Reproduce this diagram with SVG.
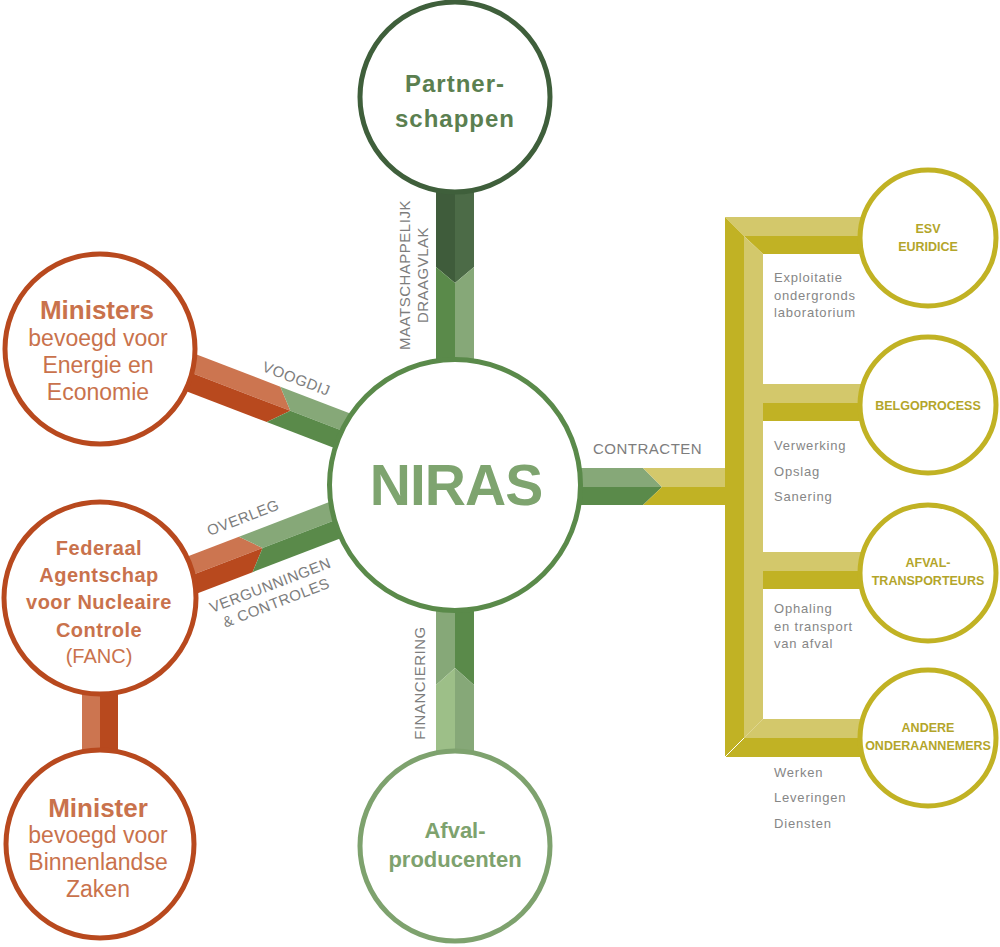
<svg xmlns="http://www.w3.org/2000/svg" width="1000" height="947" viewBox="0 0 1000 947">
<style>
text{font-family:"Liberation Sans",Arial,sans-serif}
.lbl{font-size:15px;fill:#7d7d7d;letter-spacing:0.5px}
.desc{font-size:13px;fill:#868686;letter-spacing:0.8px}
.ring{fill:#fff;stroke-width:5}
.ysm{font-size:12.5px;font-weight:bold;fill:#b3a52a;text-anchor:middle}
.or{fill:#c9724c;text-anchor:middle}
.lo{fill:#cc7550}.do{fill:#b8491e}
.lg{fill:#86a878}.mg{fill:#5a8a4a}.vg{fill:#9dbf88}
.ly{fill:#d3c86b}.dy{fill:#c1b224}
</style>
<rect width="1000" height="947" fill="#fff"/>
<g id="connectors">
  <!-- Partnerschappen to NIRAS -->
  <polygon points="436,150 455,150 455,283 436,267" fill="#3f5c3b"/>
  <polygon points="455,150 474,150 474,267 455,283" fill="#4c6b47"/>
  <polygon class="mg" points="436,267 455,283 455,420 436,420"/>
  <polygon class="lg" points="455,283 474,267 474,420 455,420"/>
  <!-- Afvalproducenten to NIRAS -->
  <polygon class="lg" points="436,550 455,550 455,668 436,685"/>
  <polygon class="mg" points="455,550 474,550 474,685 455,668"/>
  <polygon class="vg" points="436,685 455,668 455,800 436,800"/>
  <polygon class="lg" points="455,668 474,685 474,800 455,800"/>
  <!-- Ministers to NIRAS -->
  <g transform="translate(197,375) rotate(21)">
    <polygon class="lo" points="-30,-19 82,-19 100,0 -30,0"/>
    <polygon class="do" points="-30,0 100,0 82,19 -30,19"/>
    <polygon class="lg" points="82,-19 210,-19 210,0 100,0"/>
    <polygon class="mg" points="100,0 210,0 210,19 82,19"/>
  </g>
  <!-- FANC to NIRAS -->
  <g transform="translate(200,572) rotate(-21)">
    <polygon class="lo" points="-30,-19 49,-19 67,0 -30,0"/>
    <polygon class="do" points="-30,0 67,0 49,19 -30,19"/>
    <polygon class="lg" points="49,-19 230,-19 230,0 67,0"/>
    <polygon class="mg" points="67,0 230,0 230,19 49,19"/>
  </g>
  <!-- FANC to Minister -->
  <rect class="lo" x="82" y="670" width="18" height="100"/>
  <rect class="do" x="100" y="670" width="18" height="100"/>
  <!-- NIRAS to contract tree -->
  <polygon class="lg" points="540,468 643,468 662,487 540,487"/>
  <polygon class="mg" points="540,487 662,487 643,505 540,505"/>
  <polygon class="ly" points="643,468 725,468 725,487 662,487"/>
  <polygon class="dy" points="662,487 725,487 725,505 643,505"/>
  <!-- tree -->
  <polygon class="ly" points="725,217 880,217 880,236 744,236"/>
  <polygon class="dy" points="744,236 880,236 880,254 763,254"/>
  <polygon class="dy" points="725,217 744,236 744,738 725,757"/>
  <polygon class="ly" points="744,236 763,254 763,719 744,738"/>
  <rect class="ly" x="763" y="384" width="117" height="19"/>
  <rect class="dy" x="763" y="403" width="117" height="18"/>
  <rect class="ly" x="763" y="552" width="117" height="19"/>
  <rect class="dy" x="763" y="571" width="117" height="18"/>
  <polygon class="ly" points="744,738 763,719 880,719 880,738"/>
  <polygon class="dy" points="725,757 744,738 880,738 880,757"/>
  <line x1="725" y1="757" x2="744" y2="738" stroke="#fff" stroke-width="1"/>
  <!-- labels -->
  <text class="lbl" text-anchor="middle" transform="translate(410,275) rotate(-90)">MAATSCHAPPELIJK</text>
  <text class="lbl" text-anchor="middle" transform="translate(428,275) rotate(-90)">DRAAGVLAK</text>
  <text class="lbl" text-anchor="middle" transform="translate(425,683) rotate(-90)">FINANCIERING</text>
  <text class="lbl" text-anchor="middle" transform="translate(294.5,383.5) rotate(21)">VOOGDIJ</text>
  <text class="lbl" text-anchor="middle" transform="translate(245,522.5) rotate(-21)">OVERLEG</text>
  <text class="lbl" text-anchor="middle" transform="translate(272,590) rotate(-21)">VERGUNNINGEN</text>
  <text class="lbl" text-anchor="middle" transform="translate(278,607.5) rotate(-21)">&amp; CONTROLES</text>
  <text class="lbl" x="593" y="454">CONTRACTEN</text>
  <text class="desc" x="774" y="282">Exploitatie</text>
  <text class="desc" x="774" y="299.5">ondergronds</text>
  <text class="desc" x="774" y="317">laboratorium</text>
  <text class="desc" x="774" y="450">Verwerking</text>
  <text class="desc" x="774" y="476">Opslag</text>
  <text class="desc" x="774" y="501">Sanering</text>
  <text class="desc" x="774" y="613">Ophaling</text>
  <text class="desc" x="774" y="631">en transport</text>
  <text class="desc" x="774" y="648">van afval</text>
  <text class="desc" x="774" y="777">Werken</text>
  <text class="desc" x="774" y="802">Leveringen</text>
  <text class="desc" x="774" y="828">Diensten</text>
</g>
<g id="niras">
  <circle class="ring" cx="455" cy="485" r="125.5" stroke="#5a8a4a"/>
  <text x="456" y="505" text-anchor="middle" font-size="57" font-weight="bold" fill="#7ea46f" letter-spacing="-1">NIRAS</text>
</g>
<g id="partnerschappen">
  <circle class="ring" cx="455" cy="97" r="95" stroke="#3f5f3b"/>
  <text x="455" y="92" text-anchor="middle" font-size="24" font-weight="bold" fill="#5b7f50" letter-spacing="1">Partner-</text>
  <text x="455" y="127" text-anchor="middle" font-size="24" font-weight="bold" fill="#5b7f50" letter-spacing="1">schappen</text>
</g>
<g id="afvalproducenten">
  <circle class="ring" cx="455" cy="846" r="95" stroke="#7ea26e"/>
  <text x="455" y="838" text-anchor="middle" font-size="22" font-weight="bold" fill="#7ea26e">Afval-</text>
  <text x="455" y="867" text-anchor="middle" font-size="22" font-weight="bold" fill="#7ea26e">producenten</text>
</g>
<g id="ministers">
  <circle class="ring" cx="100" cy="349" r="95" stroke="#b8491e"/>
  <text class="or" x="97" y="319" font-size="26" font-weight="bold">Ministers</text>
  <text class="or" x="98" y="346" font-size="23">bevoegd voor</text>
  <text class="or" x="98" y="373" font-size="23">Energie en</text>
  <text class="or" x="98" y="400" font-size="23">Economie</text>
</g>
<g id="fanc">
  <circle class="ring" cx="100" cy="598" r="96" stroke="#b8491e"/>
  <text class="or" x="99" y="555" font-size="20" font-weight="bold" letter-spacing="0.5">Federaal</text>
  <text class="or" x="99" y="582" font-size="20" font-weight="bold" letter-spacing="0.5">Agentschap</text>
  <text class="or" x="99" y="609" font-size="20" font-weight="bold" letter-spacing="0.5">voor Nucleaire</text>
  <text class="or" x="99" y="637" font-size="20" font-weight="bold" letter-spacing="0.5">Controle</text>
  <text class="or" x="99" y="663" font-size="20">(FANC)</text>
</g>
<g id="minister-binnenlandse-zaken">
  <circle class="ring" cx="100" cy="844" r="94" stroke="#b8491e"/>
  <text class="or" x="98" y="817" font-size="26" font-weight="bold">Minister</text>
  <text class="or" x="98" y="843" font-size="23">bevoegd voor</text>
  <text class="or" x="98" y="870" font-size="23">Binnenlandse</text>
  <text class="or" x="98" y="897" font-size="23">Zaken</text>
</g>
<g id="esv-euridice">
  <circle class="ring" cx="928" cy="238" r="68" stroke="#c1b224" stroke-width="6"/>
  <text class="ysm" x="928" y="233">ESV</text>
  <text class="ysm" x="928" y="251">EURIDICE</text>
</g>
<g id="belgoprocess">
  <circle class="ring" cx="928" cy="405" r="68" stroke="#c1b224" stroke-width="6"/>
  <text class="ysm" x="928" y="410">BELGOPROCESS</text>
</g>
<g id="afvaltransporteurs">
  <circle class="ring" cx="928" cy="573" r="68" stroke="#c1b224" stroke-width="6"/>
  <text class="ysm" x="928" y="567">AFVAL-</text>
  <text class="ysm" x="928" y="585">TRANSPORTEURS</text>
</g>
<g id="andere-onderaannemers">
  <circle class="ring" cx="928" cy="738" r="68" stroke="#c1b224" stroke-width="6"/>
  <text class="ysm" x="928" y="732">ANDERE</text>
  <text class="ysm" x="928" y="750">ONDERAANNEMERS</text>
</g>
</svg>
